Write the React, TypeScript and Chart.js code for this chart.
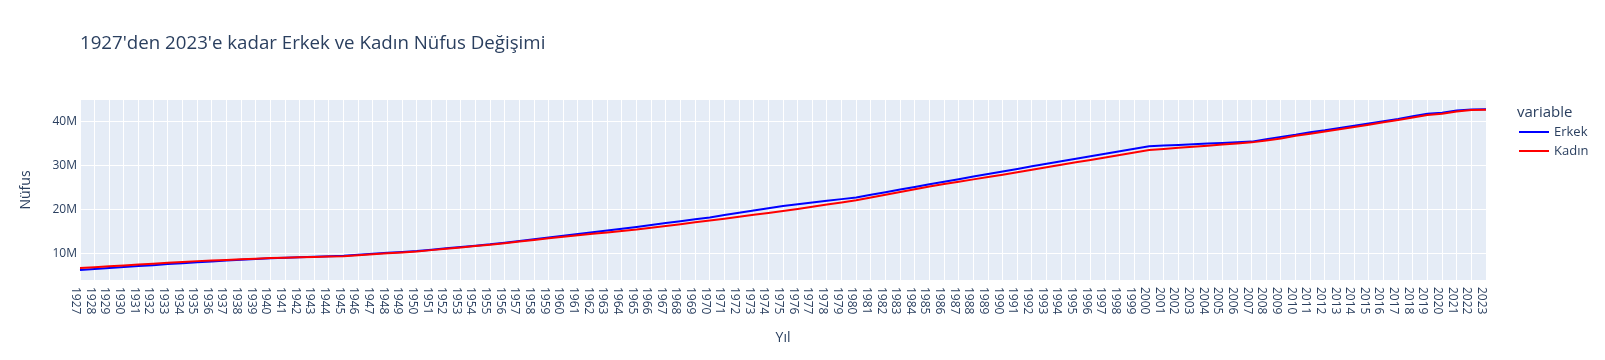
import React, { useEffect, useRef } from "react";
import { Chart, registerables } from "chart.js";

Chart.register(...registerables);

const years: string[] = [];
for (let y = 1927; y <= 2023; y++) years.push(String(y));

// values in millions
const erkek: number[] = [
  6.20, 6.42, 6.65, 6.87, 7.09, 7.31, 7.54, 7.76, 7.98,
  8.16, 8.35, 8.53, 8.72, 8.90,
  9.01, 9.12, 9.23, 9.34, 9.45,
  9.67, 9.88, 10.10, 10.31, 10.53,
  10.83, 11.13, 11.43, 11.73, 12.03,
  12.42, 12.81, 13.21, 13.60, 13.99,
  14.39, 14.79, 15.20, 15.60, 16.00,
  16.43, 16.86, 17.30, 17.73, 18.16,
  18.68, 19.20, 19.72, 20.23, 20.75,
  21.14, 21.53, 21.92, 22.31, 22.70,
  23.29, 23.89, 24.48, 25.08, 25.67,
  26.26, 26.85, 27.44, 28.02, 28.61,
  29.18, 29.76, 30.33, 30.90, 31.48, 32.05, 32.63, 33.20, 33.77, 34.35,
  34.50, 34.64, 34.79, 34.94, 35.08, 35.23, 35.38,
  35.90, 36.46, 36.95, 37.53, 37.96, 38.47, 38.98, 39.51, 40.04, 40.54,
  41.14, 41.72, 41.92, 42.43, 42.70, 42.73,
];

const kadin: number[] = [
  6.65, 6.85, 7.04, 7.24, 7.44, 7.63, 7.83, 8.02, 8.22,
  8.36, 8.50, 8.64, 8.78, 8.92,
  9.01, 9.09, 9.17, 9.26, 9.34,
  9.56, 9.77, 9.99, 10.20, 10.42,
  10.72, 11.02, 11.33, 11.63, 11.93,
  12.30, 12.66, 13.03, 13.40, 13.76,
  14.09, 14.42, 14.74, 15.07, 15.39,
  15.80, 16.21, 16.62, 17.03, 17.44,
  17.87, 18.30, 18.74, 19.17, 19.60,
  20.09, 20.58, 21.07, 21.55, 22.04,
  22.67, 23.30, 23.93, 24.56, 25.19,
  25.73, 26.26, 26.80, 27.33, 27.87,
  28.43, 28.99, 29.55, 30.11, 30.67, 31.22, 31.78, 32.34, 32.90, 33.46,
  33.71, 33.96, 34.21, 34.46, 34.71, 34.96, 35.21,
  35.62, 36.10, 36.70, 37.19, 37.67, 38.19, 38.71, 39.23, 39.77, 40.28,
  40.86, 41.43, 41.70, 42.25, 42.58, 42.64,
];

const yTicks: number[] = [10, 20, 30, 40];

const TITLE = "1927'den 2023'e kadar Erkek ve Kadın Nüfus Değişimi";
const X_TITLE = "Yıl";
const Y_TITLE = "Nüfus";
const LEGEND_TITLE = "variable";
const seriesNames = ["Erkek", "Kadın"];
const seriesColors = ["#0000ff", "#ff0000"];

const FONT = '"Open Sans", "Noto Sans", sans-serif';
const TEXT = "#2a3f5f";

const decor = {
  id: "decor",
  beforeDraw(chart: any) {
    const { ctx, chartArea } = chart;
    ctx.save();
    ctx.fillStyle = "#ffffff";
    ctx.fillRect(0, 0, chart.width, chart.height);
    ctx.fillStyle = "#E5ECF6";
    ctx.fillRect(chartArea.left, chartArea.top, chartArea.right - chartArea.left, chartArea.bottom - chartArea.top);
    ctx.restore();
  },
  afterDraw(chart: any) {
    const { ctx, chartArea } = chart;
    const xs = chart.scales.x;
    ctx.save();
    ctx.fillStyle = TEXT;
    // title
    ctx.font = `18.7px ${FONT}`;
    ctx.textAlign = "left";
    ctx.textBaseline = "middle";
    ctx.fillText(TITLE, 80, 44);
    // x tick labels rotated clockwise
    ctx.font = `12px ${FONT}`;
    years.forEach((lab, i) => {
      const x = xs.getPixelForValue(i);
      ctx.save();
      ctx.translate(x - 8, chartArea.bottom + 7);
      ctx.rotate(Math.PI / 2);
      ctx.textAlign = "left";
      ctx.textBaseline = "alphabetic";
      ctx.fillText(lab, 0, 0);
      ctx.restore();
    });
    // axis titles
    ctx.font = `14px ${FONT}`;
    ctx.textAlign = "center";
    ctx.textBaseline = "middle";
    ctx.fillText(X_TITLE, (chartArea.left + chartArea.right) / 2, 338);
    ctx.save();
    ctx.translate(30, (chartArea.top + chartArea.bottom) / 2);
    ctx.rotate(-Math.PI / 2);
    ctx.textBaseline = "alphabetic";
    ctx.fillText(Y_TITLE, 0, 0);
    ctx.restore();
    // legend
    ctx.textAlign = "left";
    ctx.textBaseline = "middle";
    ctx.font = `15px ${FONT}`;
    ctx.fillText(LEGEND_TITLE, 1517, 113);
    ctx.font = `13px ${FONT}`;
    seriesNames.forEach((n, i) => {
      const y = 132 + i * 19;
      ctx.strokeStyle = seriesColors[i];
      ctx.lineWidth = 2;
      ctx.beginPath();
      ctx.moveTo(1519, y);
      ctx.lineTo(1549, y);
      ctx.stroke();
      ctx.fillText(n, 1554, y);
    });
    ctx.restore();
  },
};

export default function App() {
  const ref = useRef<HTMLCanvasElement | null>(null);
  useEffect(() => {
    if (!ref.current) return;
    const chart = new Chart(ref.current, {
      type: "line",
      data: {
        labels: years,
        datasets: [
          {
            label: seriesNames[0],
            data: erkek,
            borderColor: seriesColors[0],
            backgroundColor: seriesColors[0],
            borderWidth: 2,
            pointRadius: 0,
            tension: 0,
            order: 1,
          },
          {
            label: seriesNames[1],
            data: kadin,
            borderColor: seriesColors[1],
            backgroundColor: seriesColors[1],
            borderWidth: 2,
            pointRadius: 0,
            tension: 0,
            order: 0,
          },
        ],
      },
      options: {
        animation: false,
        responsive: false,
        devicePixelRatio: 1,
        layout: { padding: { left: 0, top: 100, right: 119, bottom: 0 } },
        plugins: {
          legend: { display: false },
          title: { display: false },
          tooltip: { enabled: false },
        },
        scales: {
          x: {
            type: "category",
            offset: false,
            border: { display: false },
            grid: { color: "#ffffff", lineWidth: 1, drawTicks: false },
            ticks: { display: false, autoSkip: false },
            afterFit: (s: any) => {
              s.height = 80;
            },
          },
          y: {
            min: 3.93,
            max: 44.84,
            border: { display: false },
            grid: { color: "#ffffff", lineWidth: 1, drawTicks: false },
            afterBuildTicks: (s: any) => {
              s.ticks = yTicks.map((v) => ({ value: v }));
            },
            ticks: {
              padding: 3,
              color: TEXT,
              font: { family: FONT, size: 12 },
              callback: (v: any) => `${v}M`,
            },
            afterFit: (s: any) => {
              s.width = 80;
            },
          },
        },
      },
      plugins: [decor],
    });
    return () => chart.destroy();
  }, []);
  return (
    <div style={{ position: "absolute", left: 0, top: 0, width: 1605, height: 360 }}>
      <canvas ref={ref} width={1605} height={360} style={{ width: 1605, height: 360 }} />
    </div>
  );
}
